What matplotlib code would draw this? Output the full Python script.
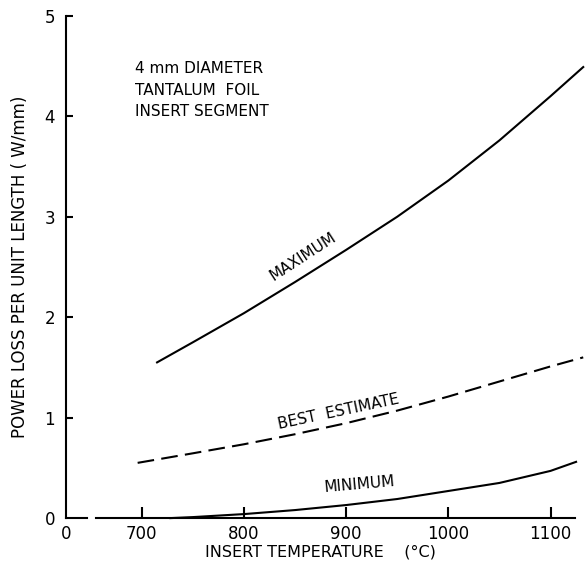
"""
Power loss per unit length vs insert temperature (4 mm tantalum foil insert).
Writes out.png.
"""

import matplotlib
matplotlib.use("Agg")
import matplotlib.pyplot as plt

plt.rcParams["font.family"] = ["DejaVu Sans"]

# --- data ------------------------------------------------------------------
max_temp = [715, 750, 800, 850, 900, 950, 1000, 1050, 1100, 1132]
max_power = [1.55, 1.75, 2.04, 2.35, 2.67, 3.00, 3.36, 3.76, 4.20, 4.49]

best_temp = [696, 750, 800, 850, 900, 950, 1000, 1050, 1100, 1132]
best_power = [0.55, 0.645, 0.735, 0.835, 0.945, 1.07, 1.21, 1.36, 1.51, 1.60]

min_temp = [728, 750, 800, 850, 900, 950, 1000, 1050, 1100, 1125]
min_power = [0.0, 0.01, 0.04, 0.08, 0.13, 0.19, 0.27, 0.35, 0.47, 0.56]

x_ticks = [700, 800, 900, 1000, 1100]
x_origin = 626          # broken axis: this position is labelled "0"
y_ticks = [0, 1, 2, 3, 4, 5]

LW = 1.5

fig = plt.figure(figsize=(5.85, 5.65), dpi=100)
ax = fig.add_axes([0.113, 0.083, 0.870, 0.889])

ax.plot(max_temp, max_power, color="black", lw=LW, clip_on=False)
ax.plot(best_temp, best_power, color="black", lw=LW, dashes=(8, 3.5), clip_on=False)
ax.plot(min_temp, min_power, color="black", lw=LW, clip_on=False)

ax.set_xlim(x_origin, 1124)
ax.set_ylim(0, 5)

# axes: left spine only, bottom drawn by hand with a break near the origin
ax.spines[["top", "right", "bottom"]].set_visible(False)
ax.spines["left"].set_linewidth(LW)
ax.axhline(0, xmin=0, xmax=0.041, color="black", lw=LW, clip_on=False)
ax.axhline(0, xmin=0.058, xmax=1, color="black", lw=LW, clip_on=False)

ax.set_xticks([x_origin] + x_ticks)
ax.set_xticklabels(["0"] + [str(t) for t in x_ticks])
ax.tick_params(axis="x", direction="in", length=8, width=LW, labelsize=12, pad=5)
ax.xaxis.get_major_ticks()[0].tick1line.set_visible(False)

ax.set_yticks(y_ticks)
ax.tick_params(axis="y", direction="in", length=5, width=LW, labelsize=12, pad=8)
ax.yaxis.get_major_ticks()[0].tick1line.set_visible(False)

ax.set_xlabel("INSERT TEMPERATURE    (°C)", fontsize=11.5, labelpad=1)
ax.set_ylabel("POWER LOSS PER UNIT LENGTH ( W/mm)", fontsize=12, labelpad=11)

# curve labels
ax.text(858, 2.60, "MAXIMUM", rotation=33, fontsize=11, ha="center", va="center")
ax.text(893, 1.06, "BEST  ESTIMATE", rotation=12, fontsize=11, ha="center", va="center")
ax.text(913, 0.34, "MINIMUM", rotation=5, fontsize=11, ha="center", va="center")

ax.text(693, 4.55, "4 mm DIAMETER\nTANTALUM  FOIL\nINSERT SEGMENT",
        fontsize=11, ha="left", va="top", linespacing=1.55)

fig.savefig("out.png", dpi=100)
plt.close(fig)
